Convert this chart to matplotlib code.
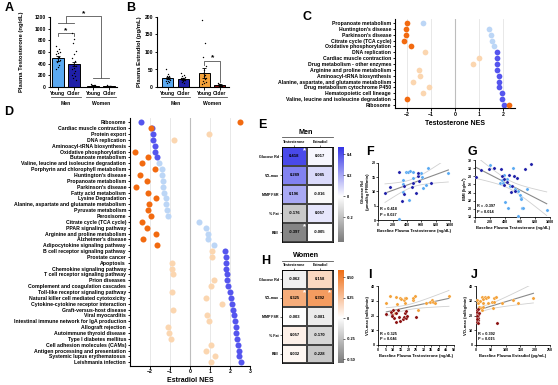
import numpy as np
import matplotlib
matplotlib.use('Agg')
import matplotlib.pyplot as plt
from matplotlib.colors import LinearSegmentedColormap, Normalize
from matplotlib.transforms import blended_transform_factory

plt.rcParams['font.family'] = ['Liberation Sans', 'DejaVu Sans']
plt.rcParams['font.weight'] = 'bold'
plt.rcParams['axes.labelweight'] = 'bold'
plt.rcParams['axes.linewidth'] = 0.8

# ---------------- data ----------------
groups = ['Young', 'Older', 'Young', 'Older']
sexes = ['Men', 'Women']
A_means = [490, 390, 25, 18]
A_sem = [40, 35, 4, 3]
A_young_men = [700, 650, 610, 600, 580, 560, 520, 500, 470, 450, 420, 380, 340, 300]
A_older_men = [920, 830, 760, 620, 560, 500, 440, 400, 360, 330, 300, 270, 240, 210, 180, 150, 120]
A_young_women = [45, 38, 30, 28, 25, 22, 20, 18, 15, 12]
A_older_women = [30, 25, 20, 18, 15, 12, 10, 8]

B_means = [25, 24, 40, 6]
B_sem = [3, 3, 14, 1.5]
B_young_men = [52, 38, 32, 30, 28, 26, 24, 22, 20, 18, 16, 14, 12]
B_older_men = [40, 35, 30, 28, 26, 25, 24, 22, 20, 18, 15, 12]
B_young_women = [191, 126, 86, 60, 48, 40, 35, 30, 25, 22, 18, 15, 12, 10]
B_older_women = [12, 10, 8, 7, 6, 5, 4, 3, 3, 2]

C_pathways = ['Propanoate metabolism', "Huntington's disease", "Parkinson's disease",
              'Citrate cycle (TCA cycle)', 'Oxidative phosphorylation', 'DNA replication',
              'Cardiac muscle contraction', 'Drug metabolism - other enzymes',
              'Arginine and proline metabolism', 'Aminoacyl-tRNA biosynthesis',
              'Alanine, aspartate, and glutamate metabolism', 'Drug metabolism cytochrome P450',
              'Hematopoietic cell lineage', 'Valine, leucine and isoleucine degradation', 'Ribosome']
C_men = [-1.35, 1.42, 1.50, 1.53, 1.62, 1.74, 1.74, 1.74, 1.74, 1.84, 1.84, 1.84, 1.95, 1.95, 2.06]
C_men_sig = [0, 0, 0, 0, 0, 1, 1, 1, 1, 1, 1, 1, 1, 1, 1]
C_women = [-2.01, -2.06, -2.06, -2.11, -1.85, -1.25, 1.01, 0.76, -1.51, -1.47, -1.74, -1.07, -1.32, -2.01, 2.26]
C_women_sig = [1, 1, 1, 1, 1, 0, 0, 0, 0, 0, 0, 0, 0, 1, 1]

D_pathways = ['Ribosome', 'Cardiac muscle contraction', 'Protein export', 'DNA replication',
              'Aminoacyl-tRNA biosynthesis', 'Oxidative phosphorylation', 'Butanoate metabolism',
              'Valine, leucine and isoleucine degradation', 'Porphyrin and chlorophyll metabolism',
              "Huntington's disease", 'Propanoate metabolism', "Parkinson's disease",
              'Fatty acid metabolism', 'Lysine Degradation', 'Alanine, aspartate and glutamate metabolism',
              'Pyruvate metabolism', 'Peroxisome', 'Citrate cycle (TCA cycle)', 'PPAR signaling pathway',
              'Arginine and proline metabolism', "Alzheimer's disease", 'Adipocytokine signaling pathway',
              'B cell receptor signaling pathway', 'Prostate cancer', 'Apoptosis',
              'Chemokine signaling pathway', 'T cell receptor signaling pathway', 'Prion diseases',
              'Complement and coagulation cascades', 'Toll-like receptor signaling pathway',
              'Natural killer cell mediated cytotoxicity', 'Cytokine-cytokine receptor interaction',
              'Graft-versus-host disease', 'Viral myocarditis',
              'Intestinal immune network for IgA production', 'Allograft rejection',
              'Autoimmune thyroid disease', 'Type I diabetes mellitus', 'Cell adhesion molecules (CAMs)',
              'Antigen processing and presentation', 'Systemic lupus erythematosus', 'Leishmania infection']
D_men = [-2.47, -1.88, -1.87, -1.87, -1.75, -1.73, -1.67, -1.55, -1.42, -1.38, -1.37, -1.37,
         -1.30, -1.22, -1.20, -1.17, -1.12, 0.47, 0.78, 0.90, 0.92, 1.22, 1.75, 1.78, 1.80, 1.82,
         1.83, 1.87, 1.92, 2.00, 2.03, 2.10, 2.17, 2.22, 2.25, 2.28, 2.32, 2.37, 2.42, 2.45, 2.47, 2.53]
D_men_sig = [1, 1, 1, 1, 1, 1, 1, 0, 0, 0, 0, 0, 0, 0, 0, 0, 0, 0, 0, 0, 0, 0,
             1, 1, 1, 1, 1, 1, 1, 1, 1, 1, 1, 1, 1, 1, 1, 1, 1, 1, 1, 1]
D_women = [2.50, -1.97, 0.95, -0.80, np.nan, -2.75, -2.08, -2.42, -1.75, -2.50, -2.13, -2.70,
           -2.12, -1.70, -2.05, -2.12, -1.97, -2.42, -2.13, -1.70, -2.37, -1.67, 1.08, 1.08,
           -0.92, -0.92, -0.83, 1.20, 1.05, -0.92, 0.78, 1.62, -0.87, 0.83, 0.95, -1.08, -1.05,
           -0.95, 1.05, 0.78, 1.25, 1.05]
D_women_sig = [1, 1, 0, 0, 0, 1, 1, 1, 1, 1, 1, 1, 1, 1, 1, 1, 1, 1, 1, 1, 1, 1,
               0, 0, 0, 0, 0, 0, 0, 0, 0, 0, 0, 0, 0, 0, 0, 0, 0, 0, 0, 0]

heat_rows = ['Glucose Rd', 'VO₂max', 'MMP FSR', '% Fat', 'BMI']
heat_cols = ['Testosterone', 'Estradiol']
E_vals = [[0.418, 0.017], [0.289, 0.085], [0.196, -0.016], [-0.176, 0.057], [-0.397, -0.005]]
E_sig = [[1, 0], [0, 0], [0, 0], [0, 0], [1, 0]]
H_vals = [[-0.062, 0.158], [0.325, 0.392], [-0.003, -0.081], [0.057, -0.170], [0.032, -0.228]]
H_sig = [[0, 0], [1, 1], [0, 0], [0, 0], [0, 0]]

F_young_x = [340, 349, 340, 386, 419, 442, 479, 433, 488, 591, 605, 619, 665, 698, 977, 293]
F_young_y = [14.0, 12.7, 9.9, 16.6, 16.9, 17.0, 16.7, 7.0, 14.8, 16.3, 14.9, 11.0, 12.2, 18.0, 16.4, 0.5]
F_older_x = [93, 163, 293, 326, 363, 358, 465, 488, 526, 549, 567, 730, 558]
F_older_y = [9.3, 11.4, 16.6, 6.6, 9.0, 12.0, 11.4, 13.0, 9.3, 15.3, 13.7, 12.8, 16.3]

G_young_x = [200, 333, 356, 378, 400, 387, 444, 467, 511, 533, 578, 600, 609, 613, 622, 644, 689, 956, 578, 422]
G_young_y = [30.7, 26.4, 27.2, 26.4, 21.7, 28.2, 20.2, 25.6, 30.1, 24.8, 24.3, 23.5, 22.7, 22.3, 20.2, 20.2, 24.8, 19.8, 18.3, 27.4]
G_older_x = [13, 80, 191, 258, 347, 364, 382, 391, 427, 453, 476, 498, 533, 556, 667, 742, 524]
G_older_y = [27.8, 29.6, 29.7, 30.1, 29.7, 28.0, 27.4, 25.8, 26.6, 28.2, 24.2, 25.6, 24.3, 27.6, 29.9, 31.1, 28.0]

I_young_x = [5.5, 7.7, 11.7, 14.3, 12.8, 15.4, 17.0, 17.6, 18.7, 17.6, 22.7, 23.1, 24.2, 26.0, 31.9, 34.1, 35.2, 36.3, 37.4, 46.7, 11.0]
I_young_y = [28.7, 33.2, 32.8, 31.6, 27.8, 31.0, 30.5, 31.6, 31.6, 28.7, 30.5, 32.1, 33.2, 23.7, 28.2, 28.9, 30.5, 29.4, 28.2, 33.2, 21.9]
I_older_x = [5.5, 8.8, 9.9, 9.5, 12.1, 13.2, 11.7, 13.9, 14.8, 16.5, 17.0, 17.6, 18.7, 19.2, 18.7, 24.9, 10.4, 9.5]
I_older_y = [20.8, 22.6, 23.7, 20.3, 21.5, 23.7, 15.8, 19.2, 16.5, 17.4, 19.2, 21.5, 18.1, 19.7, 23.1, 19.2, 18.1, 19.7]

J_young_x = [2.3, 7.9, 11.3, 16.9, 19.1, 22.5, 19.1, 24.8, 30.4, 33.8, 24.8, 39.4, 41.7, 52.9, 60.8, 61.9, 67.6, 58.6, 86.7, 126, 143, 194, 13.5]
J_young_y = [30.5, 28.2, 26.0, 24.9, 32.8, 31.0, 23.7, 28.7, 32.8, 31.6, 26.0, 32.8, 28.7, 29.4, 29.4, 32.1, 32.8, 24.9, 28.7, 30.5, 28.7, 31.6, 30.1]
J_older_x = [2.3, 3.4, 4.5, 2.3, 5.6, 3.4, 6.8, 2.3, 4.5, 7.9, 2.3, 9.0, 5.6, 3.4, 69.8, 6.8]
J_older_y = [21.9, 20.3, 19.2, 18.1, 16.9, 15.8, 18.6, 23.7, 22.6, 20.3, 19.7, 21.5, 14.7, 17.4, 15.1, 24.2]

stats_F = ('R = 0.418', 'P = 0.027')
stats_G = ('R = -0.397', 'P = 0.014')
stats_I = ('R = 0.325', 'P = 0.046')
stats_J = ('R = 0.392', 'P = 0.015')

# ---------------- style ----------------
LB = '#5aa9f2'
DBL = '#1f1fa8'
OR = '#f4a23a'
DR = '#8b1010'
C_DO = '#f26a10'
C_LO = '#fbd6b0'
C_LB = '#bcd6f6'
C_DB = '#5555ee'
bar_colors = [LB, DBL, OR, DR]

W, H = 558, 385
fig = plt.figure(figsize=(W / 100, H / 100), dpi=100)


def pax(l, t, r, b):
    return fig.add_axes([l / W, 1 - b / H, (r - l) / W, (b - t) / H])


def ptext(x, y, s, **kw):
    kw.setdefault('ha', 'center')
    kw.setdefault('va', 'center')
    kw.setdefault('fontweight', 'bold')
    fig.text(x / W, 1 - y / H, s, **kw)


def style_axis(ax, fs=3.6, lw=0.8):
    for s in ['top', 'right']:
        ax.spines[s].set_visible(False)
    for s in ['left', 'bottom']:
        ax.spines[s].set_linewidth(lw)
    ax.tick_params(labelsize=fs, length=1.8, width=lw * 0.8, pad=1)
    for lab in ax.get_xticklabels() + ax.get_yticklabels():
        lab.set_fontweight('bold')


def jitter(n, w=0.28):
    return ((np.arange(n) * 0.618) % 1 - 0.5) * w


def bar_panel(ax, pos, means, sems, pts, ylim, yticks):
    ax.bar(pos, means, width=0.72, color=bar_colors, edgecolor='black', linewidth=0.7, zorder=2)
    ax.errorbar(pos, means, yerr=sems, fmt='none', ecolor='black', elinewidth=0.6,
                capsize=1.5, capthick=0.6, zorder=3)
    for p, vals in zip(pos, pts):
        vals = np.asarray(vals, float)
        ax.scatter(p + jitter(len(vals)), vals, s=1.0, color='black', zorder=4, linewidths=0)
    ax.set_ylim(*ylim)
    ax.set_yticks(yticks)
    ax.set_xticks(pos)
    ax.set_xticklabels(groups)
    style_axis(ax, fs=3.6)
    tr = blended_transform_factory(ax.transData, ax.transAxes)
    for i, sx in enumerate(sexes):
        x0, x1 = pos[2 * i] - 0.45, pos[2 * i + 1] + 0.45
        ax.plot([x0, x1], [-0.145, -0.145], color='#555555', lw=0.6, transform=tr, clip_on=False)
        ax.text((x0 + x1) / 2, -0.235, sx, transform=tr, ha='center', va='center',
                fontsize=3.6, fontweight='bold')


# ---------------- Panel A ----------------
posA = [0, 1, 2.2, 3.2]
axA = pax(50, 17, 117, 87)
bar_panel(axA, posA, A_means, A_sem, [A_young_men, A_older_men, A_young_women, A_older_women],
          (0, 1200), range(0, 1201, 200))
axA.set_xlim(-0.5, 3.7)
kwl = dict(color='#555555', lw=0.6, clip_on=False)
axA.plot([0, 0, 1, 1], [880, 920, 920, 880], **kwl)
axA.text(0.5, 965, '*', ha='center', va='center', fontsize=6)
axA.plot([0, 1], [1100, 1100], **kwl)
axA.plot([2.2, 3.2], [150, 150], **kwl)
axA.plot([0.5, 0.5, 2.7, 2.7], [1100, 1210, 1210, 150], **kwl)
axA.text(1.6, 1250, '*', ha='center', va='center', fontsize=6)
ptext(22, 52, 'Plasma Testosterone (ng/dL)', rotation=90, fontsize=4.2)
ptext(9, 8, 'A', fontsize=9)

# ---------------- Panel B ----------------
posB = [0, 1, 2.4, 3.4]
axB = pax(157, 17, 229, 87)
bar_panel(axB, posB, B_means, B_sem, [B_young_men, B_older_men, B_young_women, B_older_women],
          (0, 200), range(0, 201, 50))
axB.set_xlim(-0.7, 4.0)
axB.plot([2.4, 2.4, 3.4, 3.4], [63, 74, 74, 15], **kwl)
axB.text(2.9, 84, '*', ha='center', va='center', fontsize=6)
ptext(140, 52, 'Plasma Estradiol (pg/mL)', rotation=90, fontsize=4.2)
ptext(131, 8, 'B', fontsize=9)


# ---------------- Dot panels C & D ----------------
def dot_panel(ax, labels, men, men_sig, women, women_sig, xlim, xticks, ms=17):
    n = len(labels)
    y = np.arange(n)
    for xv in range(int(np.ceil(xlim[0])), int(np.floor(xlim[1])) + 1):
        ax.axvline(xv, color='#bdbdbd' if xv == 0 else '#e4e4e4', lw=0.8 if xv == 0 else 0.6, zorder=0)
    men = np.asarray(men, float)
    women = np.asarray(women, float)
    msk = np.asarray(men_sig, bool)
    wsk = np.asarray(women_sig, bool)
    ax.scatter(men[~msk], y[~msk], s=ms, color=C_LB, linewidths=0, zorder=2)
    ax.scatter(men[msk], y[msk], s=ms, color=C_DB, linewidths=0, zorder=2)
    ax.scatter(women[~wsk], y[~wsk], s=ms, color=C_LO, linewidths=0, zorder=3)
    ax.scatter(women[wsk], y[wsk], s=ms, color=C_DO, linewidths=0, zorder=3)
    ax.set_xlim(*xlim)
    ax.set_xticks(xticks)
    ax.set_yticks(y)
    ax.set_yticklabels(labels)
    style_axis(ax, fs=3.7)


axC = pax(395, 19, 515, 108)
dot_panel(axC, C_pathways, C_men, C_men_sig, C_women, C_women_sig, (-2.5, 2.5), [-2, -1, 0, 1, 2])
axC.set_ylim(14 + 3 / 5.857, -4 / 5.857)
axC.set_xlabel('Testosterone NES', fontsize=5, fontweight='bold', labelpad=2)
ptext(307, 17, 'C', fontsize=9)

axD = pax(130, 118, 250, 365.5)
dot_panel(axD, D_pathways, D_men, D_men_sig, D_women, D_women_sig, (-3, 3), [-2, -1, 0, 1, 2, 3], ms=19)
axD.set_ylim(41 + 3.2 / 5.854, -4.3 / 5.854)
axD.set_xlabel('Estradiol NES', fontsize=5, fontweight='bold', labelpad=2)
ptext(9, 112, 'D', fontsize=9)


# ---------------- Heatmaps E & H ----------------
def heat_panel(box, cbox, vals, sig, title, cmax_color, vmin, vmax, cticks, ctlabels):
    l, t, r, b = box
    ax = pax(l, t, r, b)
    f0 = -vmin / (vmax - vmin)
    cmap = LinearSegmentedColormap.from_list('c', [(0, '#7b7b7b'), (f0, '#ffffff'), (1, cmax_color)])
    norm = Normalize(vmin, vmax)
    arr = np.asarray(vals, float)
    ax.pcolormesh(arr, cmap=cmap, norm=norm, edgecolors='#444444', linewidth=0.3)
    ax.set_xlim(0, 2)
    ax.set_ylim(5, 0)
    for i in range(arr.shape[0]):
        for j in range(arr.shape[1]):
            ax.text(j + 0.5, i + 0.5, f'{arr[i, j]:.3f}', ha='center', va='center',
                    fontsize=3.0, fontweight='bold', color='black')
            if sig[i][j]:
                ax.text(j + 0.88, i + 0.2, '*', ha='center', va='center', fontsize=5.5,
                        color='white', fontweight='bold')
    for s in ax.spines.values():
        s.set_linewidth(0.6)
    ax.set_xticks([0.5, 1.5])
    ax.set_xticklabels(heat_cols)
    ax.xaxis.tick_top()
    ax.set_yticks(np.arange(5) + 0.5)
    ax.set_yticklabels(heat_rows)
    ax.tick_params(labelsize=2.6, length=1.5, width=0.4, pad=0.8)
    for lab in ax.get_xticklabels() + ax.get_yticklabels():
        lab.set_fontweight('bold')
    cx = pax(*cbox)
    grad = np.linspace(vmax, vmin, 256)[:, None]
    cx.imshow(grad, aspect='auto', cmap=cmap, norm=norm, extent=[0, 1, vmin, vmax], origin='upper')
    cx.set_ylim(vmin, vmax)
    cx.set_xticks([])
    cx.yaxis.tick_right()
    cx.set_yticks(cticks)
    cx.set_yticklabels(ctlabels)
    cx.tick_params(labelsize=2.8, length=1.5, width=0.4, pad=1)
    for s in cx.spines.values():
        s.set_visible(False)
    fig.add_artist(plt.Line2D([l / W, r / W], [1 - (t - 9.5) / H, 1 - (t - 9.5) / H],
                              color='#555555', lw=0.6))
    ptext((l + r) / 2 - 1, t - 14.5, title, fontsize=5.2)


heat_panel((281.7, 146.7, 332.7, 241.7), (337.7, 146.7, 343.3, 241.7), E_vals, E_sig, 'Men',
           '#3434e6', -0.43, 0.47, [-0.2, 0, 0.2, 0.4], ['-0.2', '0', '0.2', '0.4'])
ptext(262, 125, 'E', fontsize=9)
heat_panel((281.7, 270, 332.7, 363.3), (337.7, 270, 343.3, 363.3), H_vals, H_sig, 'Women',
           '#ee6a10', -0.55, 0.59, [-0.5, -0.25, 0, 0.25, 0.5], ['-0.50', '-0.25', '0', '0.25', '0.50'])
ptext(266, 261, 'H', fontsize=9)


# ---------------- Scatter panels ----------------
def scatter_panel(box, xy_a, xy_b, cols, xlim, xticks, ylim, yticks, xlabel, ylabel, stats):
    ax = pax(*box)
    xa, ya = np.asarray(xy_a[0], float), np.asarray(xy_a[1], float)
    xb, yb = np.asarray(xy_b[0], float), np.asarray(xy_b[1], float)
    x = np.concatenate([xa, xb])
    y = np.concatenate([ya, yb])
    n = len(x)
    k, c = np.polyfit(x, y, 1)
    xs = np.linspace(x.min(), x.max(), 100)
    yh = k * xs + c
    res = y - (k * x + c)
    s = np.sqrt(np.sum(res ** 2) / (n - 2))
    se = s * np.sqrt(1 / n + (xs - x.mean()) ** 2 / np.sum((x - x.mean()) ** 2))
    ax.plot(xs, yh + 2.02 * se, color='#d0d0d0', lw=0.6, zorder=1)
    ax.plot(xs, yh - 2.02 * se, color='#d0d0d0', lw=0.6, zorder=1)
    ax.plot(xs, yh, color='#8a8a8a', lw=0.8, zorder=1)
    ax.scatter(xa, ya, s=5.5, color=cols[0], linewidths=0.2, edgecolors='white', zorder=3)
    ax.scatter(xb, yb, s=5.5, color=cols[1], linewidths=0.2, edgecolors='white', zorder=3)
    ax.set_xlim(*xlim)
    ax.set_ylim(*ylim)
    ax.set_xticks(xticks)
    ax.set_yticks(yticks)
    style_axis(ax, fs=2.6, lw=0.6)
    ax.tick_params(length=1.2, pad=0.8)
    ax.set_xlabel(xlabel, fontsize=3.0, fontweight='bold', labelpad=1.5)
    ax.set_ylabel(ylabel, fontsize=3.0, fontweight='bold', labelpad=1)
    ax.text(0.03, 0.06, stats[0] + '\n' + stats[1], transform=ax.transAxes, fontsize=2.8,
            fontweight='bold', ha='left', va='bottom', linespacing=1.4)
    return ax


scatter_panel((378.3, 162.7, 450, 220), (F_young_x, F_young_y), (F_older_x, F_older_y), (LB, DBL),
              (0, 1000), range(0, 1001, 200), (0, 20), range(0, 21, 5),
              'Baseline Plasma Testosterone (ng/dL)', 'Glucose Rd\n(μmol/kg FFM/min)', stats_F)
ptext(370, 152, 'F', fontsize=9)
scatter_panel((475, 160, 550, 217), (G_young_x, G_young_y), (G_older_x, G_older_y), (LB, DBL),
              (0, 1000), range(0, 1001, 200), (18, 32), range(18, 33, 2),
              'Baseline Plasma Testosterone (ng/dL)', 'BMI (kg/m²)', stats_G)
ptext(472, 152, 'G', fontsize=9)
scatter_panel((378, 286, 454, 345), (I_young_x, I_young_y), (I_older_x, I_older_y), (OR, DR),
              (0, 50), range(0, 51, 5), (0, 40), range(0, 41, 10),
              'Baseline Plasma Testosterone (ng/dL)', 'VO₂max (ml/kg/min)', stats_I)
ptext(370, 275, 'I', fontsize=9)
scatter_panel((476, 286, 550, 345), (J_young_x, J_young_y), (J_older_x, J_older_y), (OR, DR),
              (0, 250), range(0, 251, 50), (0, 40), range(0, 41, 10),
              'Baseline Plasma Estradiol (pg/mL)', 'VO₂max (ml/kg/min)', stats_J)
ptext(474, 275, 'J', fontsize=9)

fig.savefig('out.png', dpi=100)
